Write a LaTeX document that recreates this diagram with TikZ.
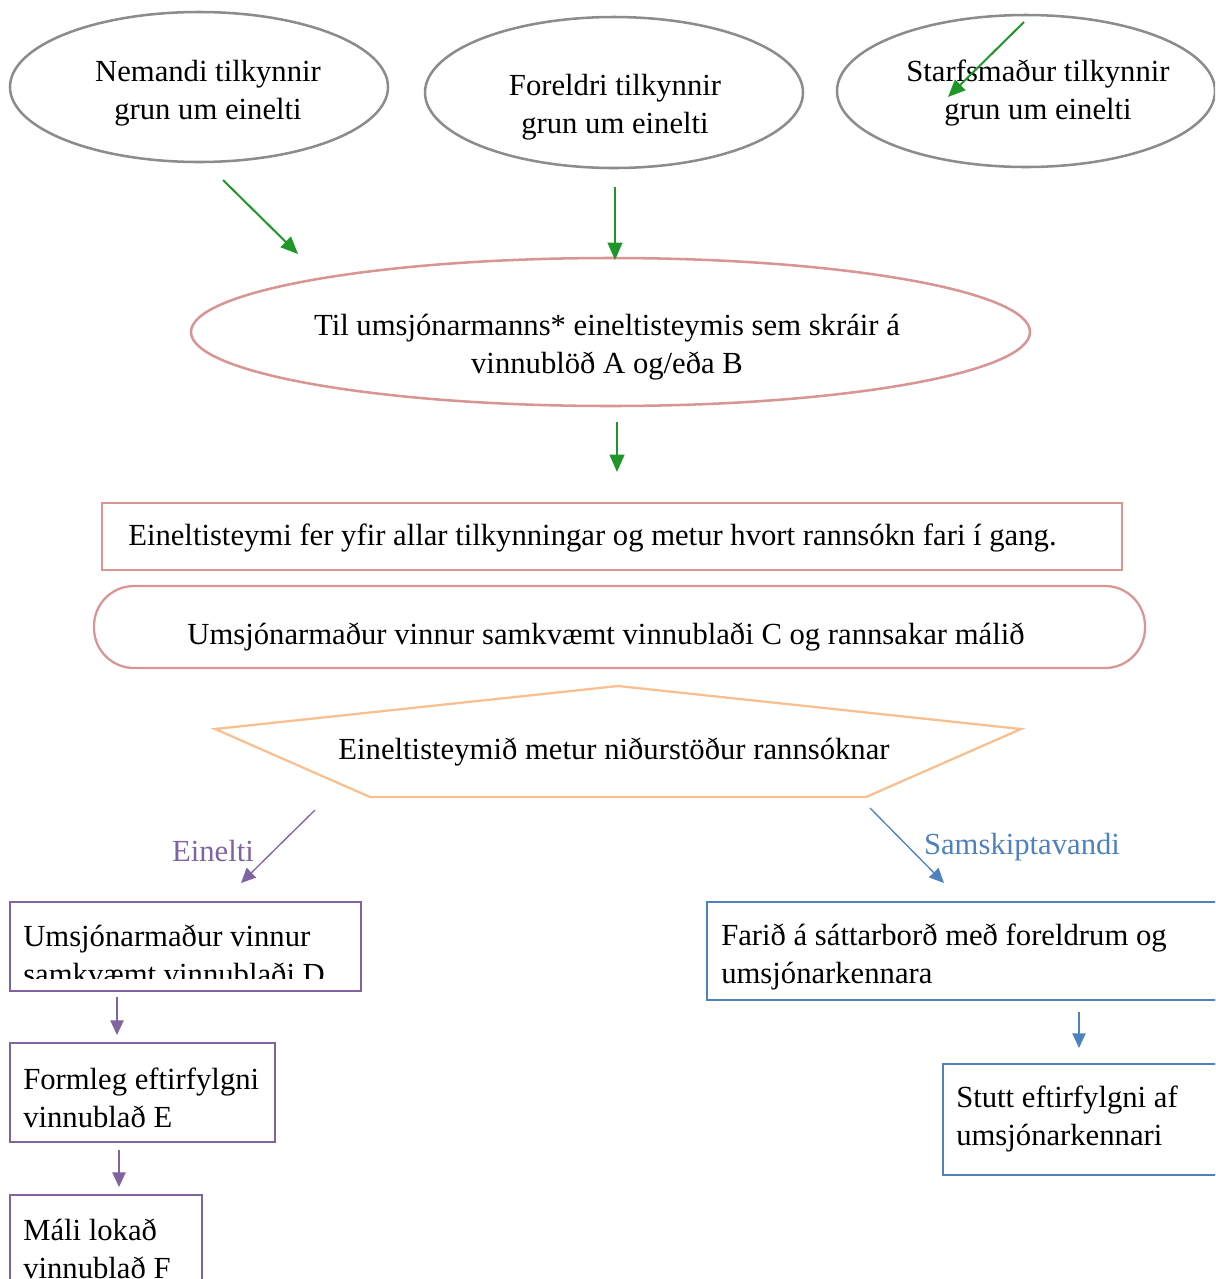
\documentclass[tikz,border=0pt]{standalone}
\usepackage{fontspec}
\setmainfont{Liberation Serif}
\usetikzlibrary{arrows.meta,shapes.geometric}
\definecolor{grayline}{RGB}{138,140,142}
\definecolor{pinkline}{RGB}{217,149,148}
\definecolor{orangeline}{RGB}{250,191,143}
\definecolor{purpleline}{RGB}{128,100,162}
\definecolor{blueline}{RGB}{79,129,189}
\definecolor{arrowgreen}{RGB}{30,150,40}
\begin{document}
\begin{tikzpicture}[x=0.75pt,y=-0.75pt,
  every node/.style={font=\fontsize{23}{28.5}\selectfont},
  ell/.style={ellipse, draw=grayline, line width=1.9pt, inner sep=0pt},
  pinkell/.style={ellipse, draw=pinkline, line width=1.9pt, inner sep=0pt},
  pinkbox/.style={rectangle, draw=pinkline, line width=1.7pt, inner sep=0pt},
  purplebox/.style={rectangle, draw=purpleline, line width=1.7pt, inner sep=0pt},
  bluebox/.style={rectangle, draw=blueline, line width=1.7pt, inner sep=0pt},
  ctxt/.style={align=center, inner sep=0pt},
  ltxt/.style={align=left, anchor=west, inner sep=0pt},
  garrow/.style={draw=arrowgreen, line width=1.5pt, -{Triangle[length=13pt,width=11pt]}},
  parrow/.style={draw=purpleline, line width=1pt, -{Triangle[length=11pt,width=10pt]}},
  barrow/.style={draw=blueline, line width=1pt, -{Triangle[length=11pt,width=10pt]}}]
\useasboundingbox (0,0) rectangle (1215,1279);
\clip (0,0) rectangle (1215,1279);

% top ellipses
\node[ell, minimum width=283.5pt, minimum height=112.5pt] (nem) at (199,87) {};
\node[ctxt] (nemt) at (208,93) {Nemandi tilkynnir\\grun um einelti};
\node[ell, minimum width=283.5pt, minimum height=113.25pt] (for) at (614,92.5) {};
\node[ctxt] (fort) at (615,107) {Foreldri tilkynnir\\grun um einelti};
\node[ell, minimum width=283.5pt, minimum height=114pt] (sta) at (1026,91) {};
\node[ctxt] (stat) at (1038,93) {Starfsmaður tilkynnir\\grun um einelti};

% pink ellipse
\node[pinkell, minimum width=629.25pt, minimum height=111pt] (til) at (610.5,332) {};
\node[ctxt] (tilt) at (607,347) {Til umsjónarmanns* eineltisteymis sem skráir á\\vinnublöð A og/eða B};

% green arrows
\coordinate (g1s) at (223,180); \coordinate (g1e) at (298,254);
\coordinate (g2s) at (615,187); \coordinate (g2e) at (615,260);
\coordinate (g3s) at (1024,22); \coordinate (g3e) at (948,97);
\coordinate (g4s) at (617,422); \coordinate (g4e) at (617,472);
\draw[garrow] (g1s) -- (g1e);
\draw[garrow] (g2s) -- (g2e);
\draw[garrow] (g3s) -- (g3e);
\draw[garrow] (g4s) -- (g4e);

% team box
\node[pinkbox, minimum width=765pt, minimum height=50.25pt] (team) at (612,536.5) {};
\node[ltxt] (teamt) at (128,538) {Eineltisteymi fer yfir allar tilkynningar og metur hvort rannsókn fari í gang.};

% rounded box
\node[pinkbox, rounded corners=30pt, minimum width=788.25pt, minimum height=61.5pt] (ums) at (619.5,627) {};
\node[ctxt] (umst) at (606,637) {Umsjónarmaður vinnur samkvæmt vinnublaði C og rannsakar málið};

% pentagon
\coordinate (p1) at (215,729);
\coordinate (p2) at (618,686);
\coordinate (p3) at (1021,729);
\coordinate (p4) at (866,797);
\coordinate (p5) at (370,797);
\draw[draw=orangeline, line width=1.7pt] (p1) -- (p2) -- (p3) -- (p4) -- (p5) -- cycle;
\node[ctxt] (pent) at (614,752) {Eineltisteymið metur niðurstöður rannsóknar};

% branch arrows
\coordinate (b1s) at (315,810); \coordinate (b1e) at (241,883);
\coordinate (b2s) at (870,808); \coordinate (b2e) at (944,883);
\draw[parrow] (b1s) -- (b1e);
\draw[barrow] (b2s) -- (b2e);
\node[text=purpleline, inner sep=0pt] (lein) at (213,851) {Einelti};
\node[text=blueline, inner sep=0pt] (lsam) at (1022,847) {Samskiptavandi};

% purple column
\node[purplebox, minimum width=263.25pt, minimum height=66.75pt] (bd) at (185.5,946.5) {};
\begin{scope}
\clip (12,904) rectangle (359,978);
\node[ltxt] (bdt) at (23,955) {Umsjónarmaður vinnur\\samkvæmt vinnublaði D};
\end{scope}
\node[purplebox, minimum width=198.75pt, minimum height=74.25pt] (be) at (142.5,1092.5) {};
\node[ltxt] (bet) at (23,1098) {Formleg eftirfylgni\\vinnublað E};
\node[purplebox, minimum width=144pt, minimum height=78.75pt] (bf) at (106,1247.5) {};
\node[ltxt] (bft) at (23,1249) {Máli lokað\\vinnublað F};
\coordinate (pa1s) at (117,997); \coordinate (pa1e) at (117,1035);
\coordinate (pa2s) at (119,1150); \coordinate (pa2e) at (119,1187);
\draw[parrow] (pa1s) -- (pa1e);
\draw[parrow] (pa2s) -- (pa2e);

% blue column
\node[bluebox, minimum width=388.5pt, minimum height=73.5pt] (bg) at (966,951) {};
\node[ltxt] (bgt) at (721,957) {Farið á sáttarborð með foreldrum og\\umsjónarkennara};
\node[bluebox, minimum width=211.5pt, minimum height=83.25pt] (bh) at (1084,1119.5) {};
\node[ltxt] (bht) at (956,1119) {Stutt eftirfylgni af\\umsjónarkennari};
\coordinate (ba1s) at (1079,1012); \coordinate (ba1e) at (1079,1048);
\draw[barrow] (ba1s) -- (ba1e);
\end{tikzpicture}
\end{document}
